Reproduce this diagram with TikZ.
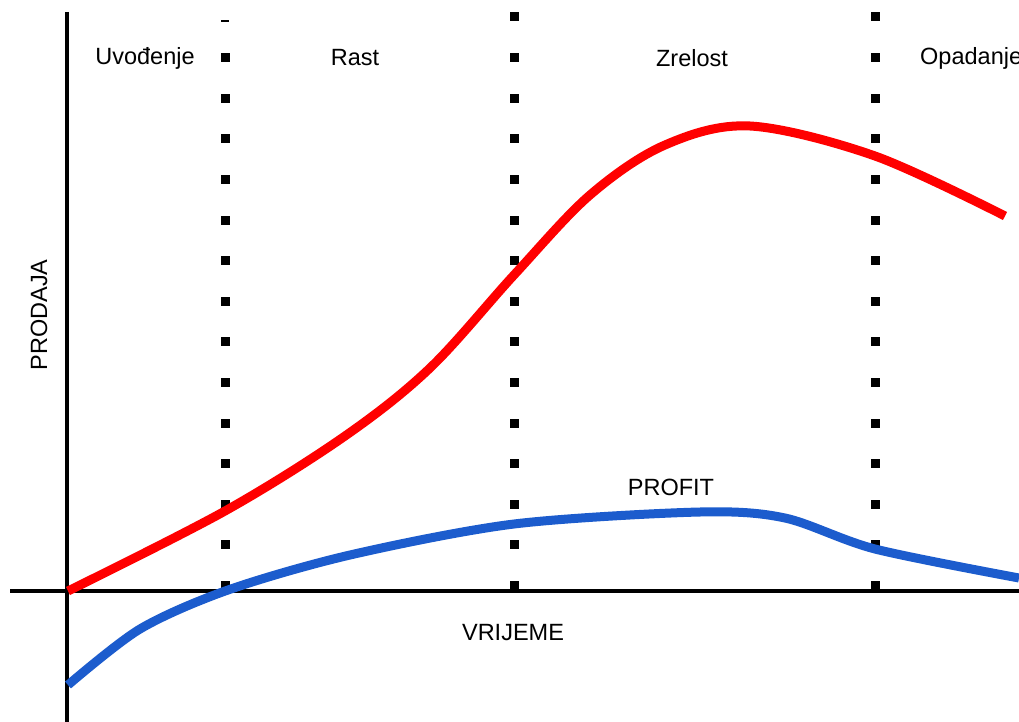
\documentclass[tikz,border=0pt]{standalone}
\usepackage{fontspec}
\setmainfont{Liberation Sans}
\definecolor{salesred}{RGB}{255,0,0}
\definecolor{profitblue}{RGB}{28,92,205}

\begin{document}
\begin{tikzpicture}[x=1pt,y=-1pt,
    axis/.style={line width=4pt,black},
    curve/.style={line width=9pt,smooth},
    lbl/.style={font=\fontsize{23.5}{28}\selectfont,inner sep=0pt}]
  \useasboundingbox (0,0) rectangle (1019,722);
  % axes
  \draw[axis] (67,12) -- (67,722);
  \draw[axis] (10,591) -- (1019,591);

  % phase borders
  \foreach \px in {514,875}
    \foreach \k in {0,...,14}
      \fill (\px-4.5,17+40.6*\k-4.5) rectangle ++(9,9);
  \foreach \k in {1,...,14}
    \fill (225-4.5,17+40.6*\k-4.5) rectangle ++(9,9);
  \fill (225-4,20) rectangle ++(8,2.5);

  % sales and profit
  \draw[curve,salesred,tension=0.55] plot coordinates {(68,591) (225,511)
    (345,436) (430,368) (514,275) (590,195) (665,145) (750,126) (875,156)
    (1005,216)};
  \draw[curve,profitblue,tension=0.5] plot coordinates {(68,685) (140,629)
    (228,590) (350,555) (514,524) (700,512) (785,518) (875,549)
    (1019,578)};

  \node[lbl] (uv) at (145,58) {Uvođenje};
  \node[lbl] (ra) at (355,58) {Rast};
  \node[lbl] (zr) at (692,58) {Zrelost};
  \node[lbl,anchor=west] (op) at (920,58) {Opadanje};
  \node[lbl,rotate=90] (pr) at (39,315) {PRODAJA};
  \node[lbl] (vr) at (513,633) {VRIJEME};
  \node[lbl] (pf) at (671,487) {PROFIT};
\end{tikzpicture}
\end{document}
